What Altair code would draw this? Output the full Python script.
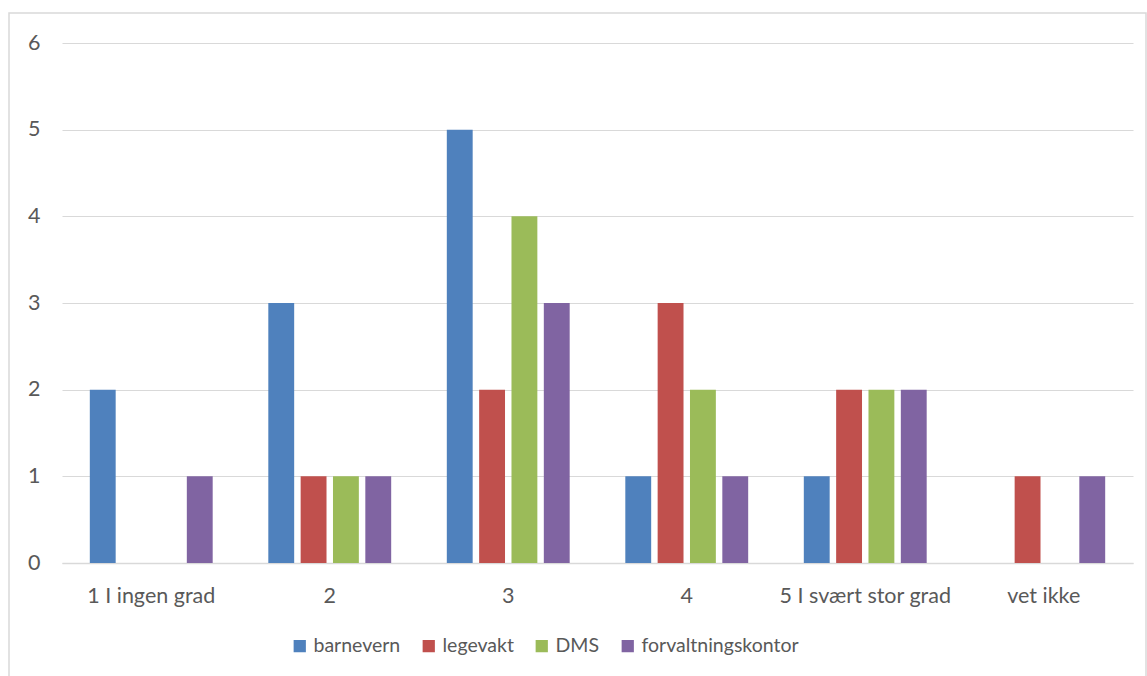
import altair as alt
import pandas as pd

categories = ["1 I ingen grad", "2", "3", "4", "5 I svært stor grad", "vet ikke"]
series = ["barnevern", "legevakt", "DMS", "forvaltningskontor"]
colors = ["#4F81BD", "#C0504D", "#9BBB59", "#8064A2"]
barnevern = [2, 3, 5, 1, 1, 0]
legevakt = [0, 1, 2, 3, 2, 1]
dms = [0, 1, 4, 2, 2, 0]
forvaltningskontor = [1, 1, 3, 1, 2, 1]

rows = []
for name, vals in zip(series, [barnevern, legevakt, dms, forvaltningskontor]):
    for c, v in zip(categories, vals):
        rows.append({"kategori": c, "serie": name, "verdi": v})
df = pd.DataFrame(rows)

FONT = "Lato"
FS = 21.5
TXT = "#595959"
GRID = "#D9D9D9"

bars = alt.Chart(df).mark_bar().encode(
    x=alt.X("kategori:N", sort=categories, title=None,
            scale=alt.Scale(paddingInner=0, paddingOuter=0),
            axis=alt.Axis(labelAngle=0, labelPadding=22, ticks=False,
                          domain=True, domainColor=GRID, domainWidth=1.5,
                          labelFont=FONT, labelFontSize=FS, labelColor=TXT)),
    xOffset=alt.XOffset("serie:N", sort=series,
                        scale=alt.Scale(paddingInner=0.2, paddingOuter=0.86)),
    y=alt.Y("verdi:Q", title=None,
            scale=alt.Scale(domain=[0, 6]),
            axis=alt.Axis(values=[0, 1, 2, 3, 4, 5, 6], ticks=False, domain=False,
                          gridColor=GRID, gridWidth=1.2, labelPadding=22,
                          labelFont=FONT, labelFontSize=FS, labelColor=TXT)),
    color=alt.Color("serie:N", sort=series,
                    scale=alt.Scale(domain=series, range=colors),
                    legend=alt.Legend(title=None, orient="none", direction="horizontal",
                                      legendX=228, legendY=593,
                                      symbolType="square", symbolSize=150,
                                      symbolStrokeWidth=0, labelOffset=4,
                                      columnPadding=18, labelLimit=400,
                                      labelFont=FONT, labelFontSize=19.5, labelColor=TXT)),
)

border = alt.Chart(pd.DataFrame({"a": [0]})).mark_rect(
    fill=None, stroke=GRID, strokeWidth=1.5, clip=False
).encode(x=alt.value(-53), x2=alt.value(1084), y=alt.value(-30), y2=alt.value(640))

chart = alt.layer(border, bars).properties(
    width=1071, height=520,
    autosize=alt.AutoSizeParams(type="none"),
    padding={"left": 62, "top": 43, "right": 14, "bottom": 113},
    background="white",
).configure_view(stroke=None)

chart.save("out.html", embed_options={"renderer": "svg", "actions": False})
